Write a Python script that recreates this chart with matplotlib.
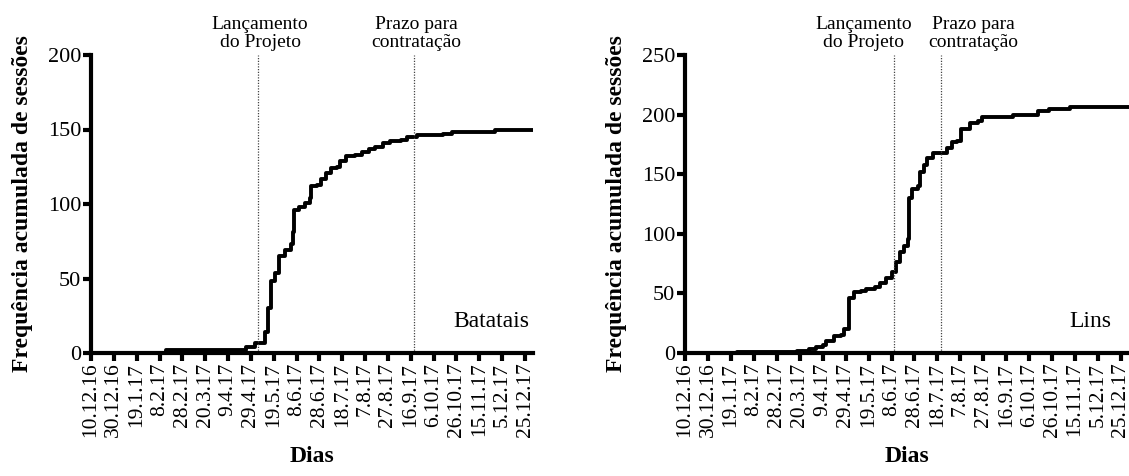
import matplotlib
matplotlib.use("Agg")
import matplotlib.pyplot as plt
import pandas as pd

plt.rcParams['font.family'] = ['Liberation Serif', 'DejaVu Serif']

tick_labels = ['10.12.16', '30.12.16', '19.1.17', '8.2.17', '28.2.17', '20.3.17',
               '9.4.17', '29.4.17', '19.5.17', '8.6.17', '28.6.17', '18.7.17',
               '7.8.17', '27.8.17', '16.9.17', '6.10.17', '26.10.17', '15.11.17',
               '5.12.17', '25.12.17']

# day offsets from 10.12.16 and cumulative session counts
batatais_days = [0, 66, 136, 144, 152, 155, 158, 161, 165, 170, 175, 177, 178, 182,
                 187, 192, 193, 198, 201, 206, 210, 215, 218, 223, 231, 237, 243,
                 249, 256, 262, 271, 277, 285, 308, 316, 354, 390]
batatais_vals = [0, 2, 4, 7, 14, 30, 48, 54, 65, 69, 73, 81, 96, 98,
                 101, 104, 112, 113, 117, 121, 124, 125, 129, 132, 133, 135, 137,
                 138, 141, 142, 143, 145, 146, 147, 148, 150, 150]

lins_days = [0, 45, 98, 108, 114, 120, 123, 130, 136, 139, 143, 147, 153, 158, 166,
             170, 175, 180, 184, 187, 191, 194, 195, 198, 203, 205, 208, 211, 216,
             228, 233, 237, 241, 248, 255, 259, 286, 308, 317, 336, 390]
lins_vals = [0, 1, 2, 3, 5, 7, 10, 14, 15, 20, 46, 51, 52, 54, 55,
             59, 63, 68, 76, 85, 90, 96, 130, 138, 140, 152, 158, 164, 168,
             172, 177, 178, 188, 193, 195, 198, 200, 203, 205, 206, 206]

batatais_events = ['2017-05-05', '2017-09-19']
lins_events = ['2017-06-10', '2017-07-21']
event_labels = ['Lançamento\ndo Projeto', 'Prazo para\ncontratação']

start = pd.Timestamp('2016-12-10')
tick_pos = [(pd.to_datetime(t, format='%d.%m.%y') - start).days for t in tick_labels]

W, H = 1129, 476
fig = plt.figure(figsize=(W / 100, H / 100), dpi=100)

def panel(rect, days, vals, events, ymax, yticks, xmax, name, name_x, text_x):
    ax = fig.add_axes(rect)
    ax.step(days, vals, where='post', color='black', lw=2.8, clip_on=True)
    ax.set_xlim(0, xmax)
    ax.set_ylim(0, ymax)
    ax.set_xticks(tick_pos)
    ax.set_xticklabels(tick_labels, rotation=90, fontsize=15.5)
    ax.set_yticks(yticks)
    ax.set_yticklabels([str(v) for v in yticks], fontsize=16)
    for s in ['top', 'right']:
        ax.spines[s].set_visible(False)
    for s in ['left', 'bottom']:
        ax.spines[s].set_linewidth(3)
    ax.tick_params(axis='both', direction='out', length=6, width=3, pad=1)
    for ev, tx, lab in zip(events, text_x, event_labels):
        d = (pd.Timestamp(ev) - start).days
        ax.axvline(d, color='#444444', lw=0.9, ls=(0, (1, 1.2)))
        ax.text(tx, ymax * 1.012, lab, ha='center', va='bottom', fontsize=14,
                linespacing=1.08)
    ax.text(name_x, ymax * 0.105, name, ha='right', va='center', fontsize=17)
    ax.set_xlabel('Dias', fontsize=17, fontweight='bold', labelpad=6)
    ax.set_ylabel('Frequência acumulada de sessões', fontsize=17,
                  fontweight='bold', labelpad=11)
    return ax

bottom = 1 - 353 / H
height = 298 / H
b_ev = [(pd.Timestamp(e) - start).days + 2 for e in batatais_events]
panel([91 / W, bottom, (533 - 91) / W, height], batatais_days, batatais_vals,
      batatais_events, 200, [0, 50, 100, 150, 200], 387, 'Batatais', 384, b_ev)
panel([685 / W, bottom, (W - 685) / W, height], lins_days, lins_vals,
      lins_events, 250, [0, 50, 100, 150, 200, 250], 387, 'Lins', 372, [156, 251])

fig.savefig('out.png', dpi=100)
